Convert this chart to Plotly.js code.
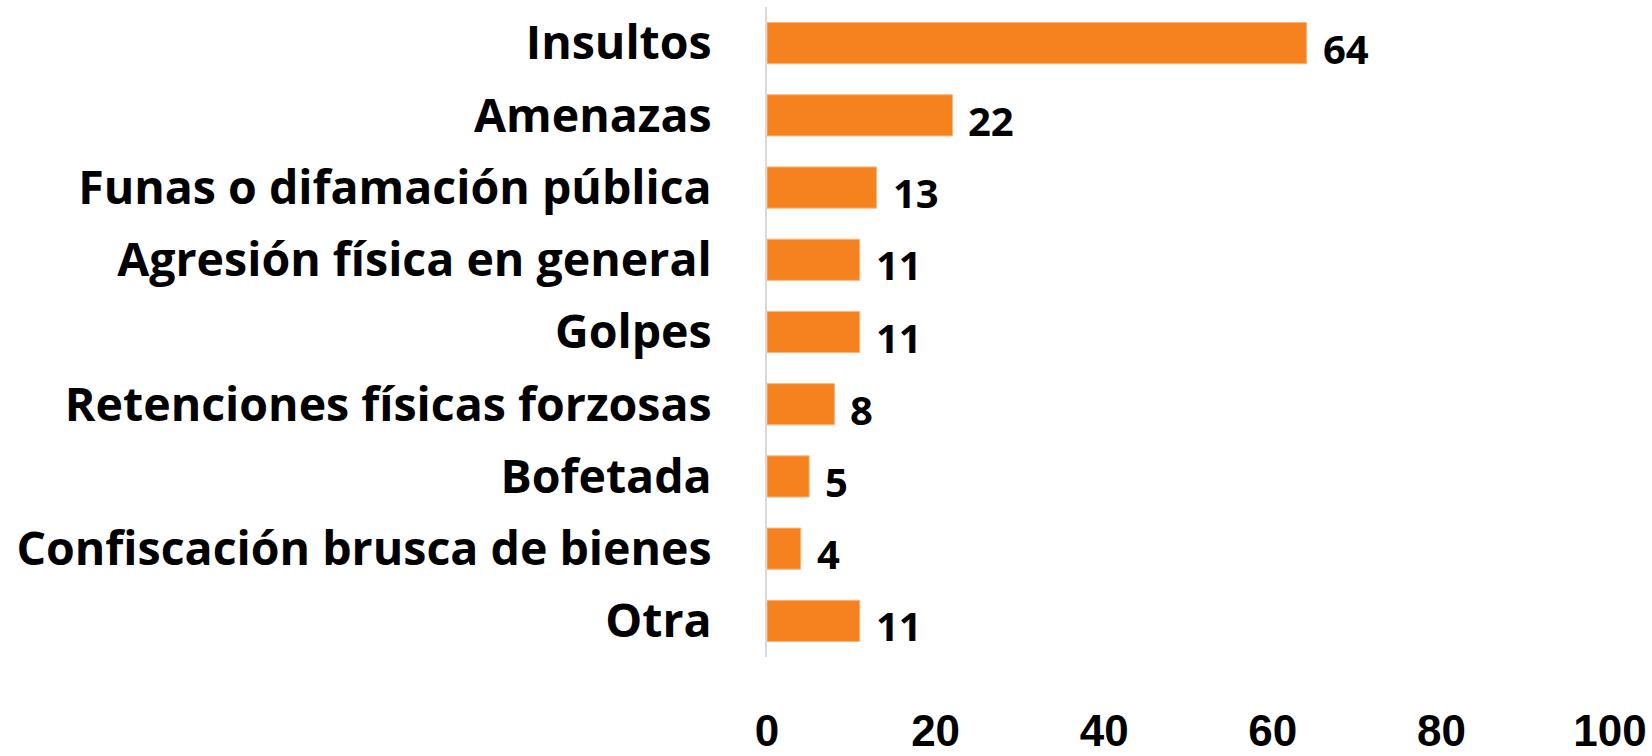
<!DOCTYPE html>
<html>
<head>
<meta charset="utf-8">
<script src="https://cdn.plot.ly/plotly-3.0.1.min.js"></script>
<style>
html,body{margin:0;padding:0;background:#fff;}
#chart{width:1652px;height:756px;}
</style>
</head>
<body>
<div id="chart"></div>
<script>
const categories = [
  "Insultos",
  "Amenazas",
  "Funas o difamación pública",
  "Agresión física en general",
  "Golpes",
  "Retenciones físicas forzosas",
  "Bofetada",
  "Confiscación brusca de bienes",
  "Otra"
];
const values = [64, 22, 13, 11, 11, 8, 5, 4, 11];
const tickValues = [0, 20, 40, 60, 80, 100];
const tickLabels = ["0", "20", "40", "60", "80", "100"];

const trace = {
  type: "bar",
  orientation: "h",
  x: values,
  y: categories,
  marker: { color: "#f5821f", line: { color: "#fbb57a", width: 1 } },
  hoverinfo: "none"
};

const annotations = values.map((v, i) => ({
  x: v,
  y: categories[i],
  xref: "x",
  yref: "y",
  text: String(v),
  showarrow: false,
  xanchor: "left",
  yanchor: "middle",
  xshift: 14,
  yshift: -5,
  font: { family: "Open Sans, sans-serif", size: 40, color: "#000", weight: 700 }
}));

const layout = {
  width: 1652,
  height: 756,
  margin: { l: 767, r: 42, t: 7, b: 99 },
  paper_bgcolor: "#fff",
  plot_bgcolor: "#fff",
  showlegend: false,
  bargap: 0.43,
  xaxis: {
    range: [0, 100],
    tickmode: "array",
    tickvals: tickValues,
    ticktext: tickLabels,
    showgrid: false,
    zeroline: false,
    showline: false,
    ticks: "outside",
    ticklen: 35,
    tickcolor: "rgba(0,0,0,0)",
    tickfont: { family: "Liberation Sans, Arial, sans-serif", size: 44, color: "#000", weight: 700 },
    fixedrange: true
  },
  yaxis: {
    autorange: "reversed",
    showgrid: false,
    zeroline: false,
    showline: true,
    linecolor: "#d9d9d9",
    linewidth: 2,
    ticks: "outside",
    ticklen: 44,
    tickcolor: "rgba(0,0,0,0)",
    tickfont: { family: "Open Sans, sans-serif", size: 46.5, color: "#000", weight: 700 },
    fixedrange: true
  },
  annotations: annotations
};

Plotly.newPlot("chart", [trace], layout, { displayModeBar: false, staticPlot: true });
</script>
</body>
</html>
